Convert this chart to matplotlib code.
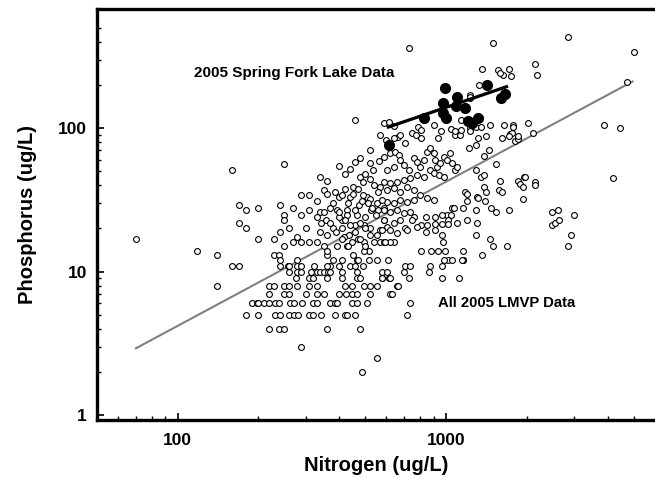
import matplotlib
matplotlib.use("Agg")
import matplotlib.pyplot as plt
from matplotlib.ticker import FixedLocator, NullFormatter, FixedFormatter

# ---- All 2005 LMVP data (open circles) ----
lmvp_n = [70, 118, 140, 160, 170, 159, 170, 180, 170, 180, 200, 200, 229, 240, 249, 250, 249, 240, 260, 269, 289, 289,
          308, 308, 300, 279, 269, 249, 229, 238, 240, 258, 279, 289, 308, 331, 339, 360, 350, 360, 338, 331, 341, 356,
          339, 361, 331, 350, 361, 369, 387, 398, 410, 393, 428, 428, 410, 398, 379, 410, 434, 416, 393, 428, 410, 371,
          440, 459, 450, 439, 477, 491, 520, 561, 534, 520, 473, 486, 508, 523, 554, 466, 501, 527, 559, 585, 585, 459,
          495, 523, 566, 554, 468, 447, 495, 518, 495, 566, 585, 466, 518, 553,
          664, 784, 805, 905, 1083, 1125, 1230, 1316, 1410, 1610, 1730, 1800, 1850, 2020, 1780, 1640, 1220, 1290, 1440,
          1530, 1380, 1290, 1350, 1390, 1590, 1855, 1880, 1950, 1960, 2150, 2150, 1940, 1570, 1610, 1380, 1410, 1175,
          1200, 1300, 1320, 1400, 1200, 1290, 1470, 1530, 1710, 1940, 2490, 2620, 2490, 2550, 2640, 3000, 2930, 2850,
          4200, 1690, 1500, 1460, 1360, 1290, 1300, 1200, 1160, 1160, 1160, 1095, 1050, 1070, 1010, 1040, 970, 1020,
          910, 910, 970, 1020, 970, 975, 910, 840, 850, 840, 810, 760, 810, 880, 930, 990, 705, 705, 735, 875, 970, 1020,
          1050, 980, 1160, 610, 640, 620, 590,
          260, 279, 289, 313, 331, 339, 350, 363, 371, 410, 466, 578, 603,
          240, 260, 279, 289, 321, 359,
          277, 308, 320, 361, 410, 466, 477, 578, 613,
          140, 219, 229, 249, 260, 279, 308, 331, 419, 447, 496, 523, 551,
          220, 249, 260, 300, 331, 350, 398, 423, 447, 466, 520, 620,
          190, 198, 200, 210, 220, 230, 238, 262, 271, 290, 320, 331, 369, 387, 392, 447, 466, 508,
          180, 200, 230, 240, 260, 271, 281, 310, 320, 341, 387, 419, 428, 459,
          220, 238, 249, 359, 477, 289, 555, 486,
          695, 865, 578, 617, 725, 970, 1115, 655, 665, 630, 735, 715, 1150,
          726, 1497, 2850, 5030, 2135, 2175, 1365, 1565, 1630, 1710, 1750, 1595, 1330, 1230, 1230, 4730, 3860, 4450,
          459, 1139, 1460, 1290, 1350, 1780, 1760, 1850, 1710, 2110, 960, 1040, 1080, 1139, 1230, 1275, 810, 930, 1225,
          # dense core (N ~ 570-1100, P ~ 18-110)
          586, 611, 639, 570, 595, 639, 676, 706, 748, 775, 586, 621, 648, 667, 676, 639, 603, 696, 726, 758,
          780, 803, 825, 850, 874, 899, 912, 926, 952, 980, 1009, 1038, 1053, 1083, 1099, 874, 899, 940, 980, 825,
          780, 737, 696, 657, 621, 586, 570, 603, 639, 676, 716, 758, 803, 850, 899, 758, 716, 676, 639, 603,
          578, 586, 621, 657, 696, 737, 676, 639, 603, 586, 748, 780, 716, 657, 621, 578,
          # dense middle (N ~ 350-560, P ~ 11-60)
          400, 420, 440, 460, 480, 500, 520, 540, 560, 420, 450, 470, 490, 510, 530, 550, 430, 460, 480, 500,
          520, 540, 380, 400, 420, 440, 460, 480, 500, 350, 370, 390, 410, 430, 450, 470, 490, 360, 380, 400]
lmvp_p = [17, 14, 13, 11, 11, 51, 29, 27, 22, 20, 28, 17, 17, 29, 25, 23, 56, 19, 20, 28, 34, 25,
          34, 27, 20, 17.5, 16, 15, 13, 13, 12, 11, 12, 16, 16, 31, 46, 43, 37, 35, 26, 24, 22, 23,
          19, 18, 16, 15, 13, 28, 36, 33, 34, 27, 27, 25, 23, 24, 20, 20, 18, 17.5, 15, 15, 12, 11,
          11, 11, 39, 33, 46, 42, 57, 59, 51, 71, 29, 31, 33, 32, 30, 25, 24, 27, 27, 28, 23, 21,
          21, 20, 19.5, 18, 17, 16, 16, 14, 14, 16, 16, 12, 12, 12,
          86.5, 102, 98, 105, 90, 90, 101, 86, 88, 85, 91, 81, 84, 109, 106, 106, 72.6, 76, 70,
          56, 64, 51, 46, 47, 43, 43, 41, 45.5, 46, 42, 40, 39, 37, 36, 39, 36, 36,
          35, 33.4, 32.5, 31, 31, 27, 28, 26, 27, 32, 26, 27, 21, 22, 23, 25, 18, 15,
          45, 15, 15, 17, 13, 18, 22, 23, 28, 14, 12, 22, 28, 28, 25, 25, 25, 23,
          24, 21.5, 21.5, 21.5, 18, 16, 19.5, 24, 21, 19, 21, 24, 14, 14, 14, 14, 20, 11, 11, 11, 11, 12,
          12, 12, 12, 12, 16, 16, 16,
          10, 10, 10, 10, 10, 10, 10, 10, 10, 10, 10, 10, 10,
          11, 11, 11, 11, 11, 11,
          9, 9, 9, 9, 9, 9, 9, 9, 9,
          8, 8, 8, 8, 8, 8, 8, 8, 8, 8, 8, 8, 8,
          7, 7, 7, 7, 7, 7, 7, 7, 7, 7, 7, 7,
          6, 6, 6, 6, 6, 6, 6, 6, 6, 6, 6, 6, 6, 6, 6, 6, 6, 6,
          5, 5, 5, 5, 5, 5, 5, 5, 5, 5, 5, 5, 5, 5,
          4, 4, 4, 4, 4, 3, 2.5, 2,
          10, 10, 9, 9, 9, 9, 9, 8, 8, 7, 6, 5, 12,
          361, 396, 430, 340, 283, 234, 259, 254, 237, 259, 233, 244, 199, 170, 162, 209, 106, 101,
          114, 114, 106, 102, 102, 102, 92, 89, 88, 92, 95, 99, 95, 97, 96, 108, 86, 86, 164,
          # dense core
          108, 111, 103, 90, 83, 85, 90, 78.5, 92, 90, 63.4, 67, 68.5, 65, 60, 54, 51, 55.5, 51, 61.8,
          58.5, 54, 60, 68.5, 72.5, 67, 60, 54, 57, 63.4, 60, 67, 57, 51, 54, 51, 48.5, 47.2, 46, 46,
          47.2, 44.8, 43.5, 42.4, 41.3, 42.4, 39.2, 37.2, 38.2, 36.2, 39.2, 37.2, 34.3, 32.5, 31.6, 31.6, 30.8, 31.6, 30, 30.8,
          31.6, 26.9, 26.1, 26.9, 25.5, 26.1, 23, 21.7, 20.6, 23, 23, 20.6, 19.5, 18.5, 19.5, 19.5,
          # dense middle
          55, 48, 52, 58, 62, 48, 44, 40, 36, 38, 35, 38, 34, 30, 28, 25, 30, 27, 22, 20,
          18, 16, 30, 26, 23, 21, 19, 17, 15, 26, 22, 19, 17, 15, 13, 12, 11, 14, 12, 11]

# ---- 2005 Spring Fork Lake data (filled circles) ----
sfl_n = [615, 829, 990, 975, 1097, 1087, 975, 999, 1175, 1212, 1310, 1250, 1416, 1603, 1654]
sfl_p = [77, 118, 191, 150, 164, 144, 128, 118, 138, 112, 118, 108, 201, 162, 174]

# ---- regression lines (end points) ----
lmvp_fit_n = [70, 4950]
lmvp_fit_p = [2.92, 212]
sfl_fit_n = [610, 1680]
sfl_fit_p = [102, 195]

x_ticks = [100, 1000]
x_ticklabels = ["100", "1000"]
y_ticks = [1, 10, 100]
y_ticklabels = ["1", "10", "100"]

plt.rcParams['font.family'] = ['Liberation Sans', 'DejaVu Sans']
plt.rcParams['font.weight'] = 'bold'

fig = plt.figure(figsize=(6.55, 4.94), dpi=100)
ax = fig.add_axes([96.7 / 655, 74 / 494, (655 - 96.7) / 655, (420 - 9.3) / 494])

ax.set_xscale('log')
ax.set_yscale('log')
ax.set_xlim(50, 6000)
ax.set_ylim(0.923, 676)

ax.plot(lmvp_fit_n, lmvp_fit_p, color='#808080', lw=1.5, zorder=2)
ax.plot(lmvp_n, lmvp_p, linestyle='none', marker='o', ms=4.2, mfc='white', mec='black', mew=0.8, zorder=3)
ax.plot(sfl_fit_n, sfl_fit_p, color='black', lw=2.3, zorder=4)
ax.plot(sfl_n, sfl_p, linestyle='none', marker='o', ms=7.0, mfc='black', mec='black', zorder=5)

ax.text(115, 243, "2005 Spring Fork Lake Data", fontsize=11, fontweight='bold', va='center', ha='left')
ax.text(930, 6.05, "All 2005 LMVP Data", fontsize=10.7, fontweight='bold', va='center', ha='left')

for side in ['left', 'bottom', 'top']:
    ax.spines[side].set_linewidth(2.4)
ax.spines['right'].set_visible(False)

ax.xaxis.set_major_locator(FixedLocator(x_ticks))
ax.xaxis.set_major_formatter(FixedFormatter(x_ticklabels))
ax.xaxis.set_minor_locator(FixedLocator([60, 70, 80, 90, 200, 300, 400, 500, 600, 700, 800, 900,
                                         2000, 3000, 4000, 5000]))
ax.xaxis.set_minor_formatter(NullFormatter())
ax.yaxis.set_major_locator(FixedLocator(y_ticks))
ax.yaxis.set_major_formatter(FixedFormatter(y_ticklabels))
ax.yaxis.set_minor_locator(FixedLocator([2, 3, 4, 5, 6, 7, 8, 9, 20, 30, 40, 50, 60, 70, 80, 90,
                                         200, 300, 400, 500]))
ax.yaxis.set_minor_formatter(NullFormatter())

ax.tick_params(which='major', direction='in', length=5, width=1.2, labelsize=12.5, pad=7)
ax.tick_params(which='minor', direction='in', length=3, width=1.0)
ax.tick_params(axis='x', which='major', pad=9)
ax.tick_params(top=False, right=False, which='both')
for lab in ax.get_xticklabels() + ax.get_yticklabels():
    lab.set_fontweight('bold')

ax.set_xlabel("Nitrogen (ug/L)", fontsize=14.5, fontweight='bold', labelpad=6)
ax.set_ylabel("Phosphorus (ug/L)", fontsize=14.5, fontweight='bold', labelpad=15)

fig.savefig("out.png", dpi=100)
